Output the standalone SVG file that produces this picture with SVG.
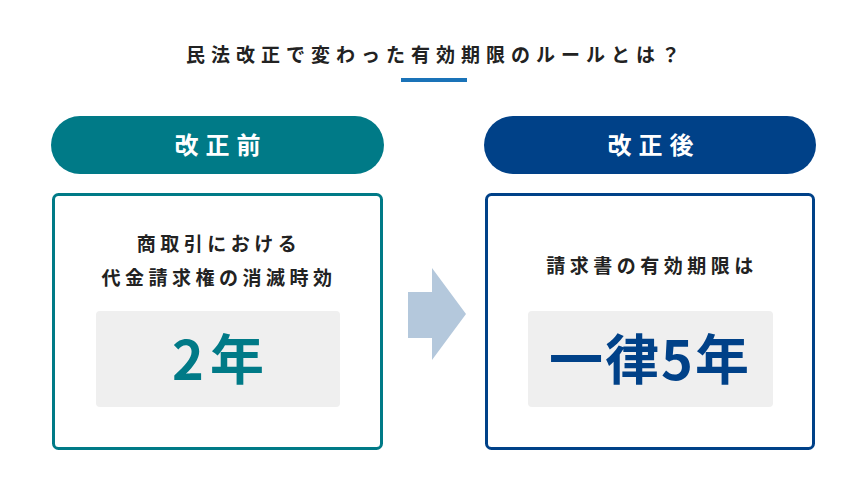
<svg xmlns="http://www.w3.org/2000/svg" width="867" height="495" viewBox="0 0 867 495">
<style>
text{font-family:"Noto Sans CJK JP","Noto Sans",sans-serif;font-weight:bold;text-anchor:middle}
.t{font-size:19px;fill:#222;letter-spacing:4.5px}
.p{font-size:24px;fill:#fff;letter-spacing:7px}
.g{fill:#efefef}
.big{font-size:54px;letter-spacing:6px}
</style>
<rect width="867" height="495" fill="#fff"/>
<g id="title"><text class="t" x="436" y="62" style="letter-spacing:6px">民法改正で変わった有効期限のルールとは？</text>
<rect x="401" y="78" width="66" height="4" fill="#1a73b8"/></g>
<g id="before">
<rect x="51" y="116" width="333" height="58" rx="29" fill="#007a87"/>
<text class="p" x="221" y="154">改正前</text>
<rect x="53.5" y="194.5" width="328" height="254" rx="5" fill="#fff" stroke="#007a87" stroke-width="3"/>
<text class="t" x="219" y="251">商取引における</text>
<text class="t" x="219" y="285">代金請求権の消滅時効</text>
<rect class="g" x="96" y="311" width="244" height="96" rx="4"/>
<text class="big" x="221" y="380" fill="#007a87">2年</text>
</g>
<g id="connectors"><path d="M408 292H432V268L466 314L432 360V338H408Z" fill="#b4c8dc"/></g>
<g id="after">
<rect x="484" y="116" width="332" height="58" rx="29" fill="#004188"/>
<text class="p" x="654" y="154">改正後</text>
<rect x="486.5" y="194.5" width="327" height="254" rx="5" fill="#fff" stroke="#004188" stroke-width="3"/>
<text class="t" x="652" y="273">請求書の有効期限は</text>
<rect class="g" x="528" y="311" width="245" height="96" rx="4"/>
<text class="big" x="650" y="380" fill="#004188" style="letter-spacing:2px">一律5年</text>
</g>
</svg>
